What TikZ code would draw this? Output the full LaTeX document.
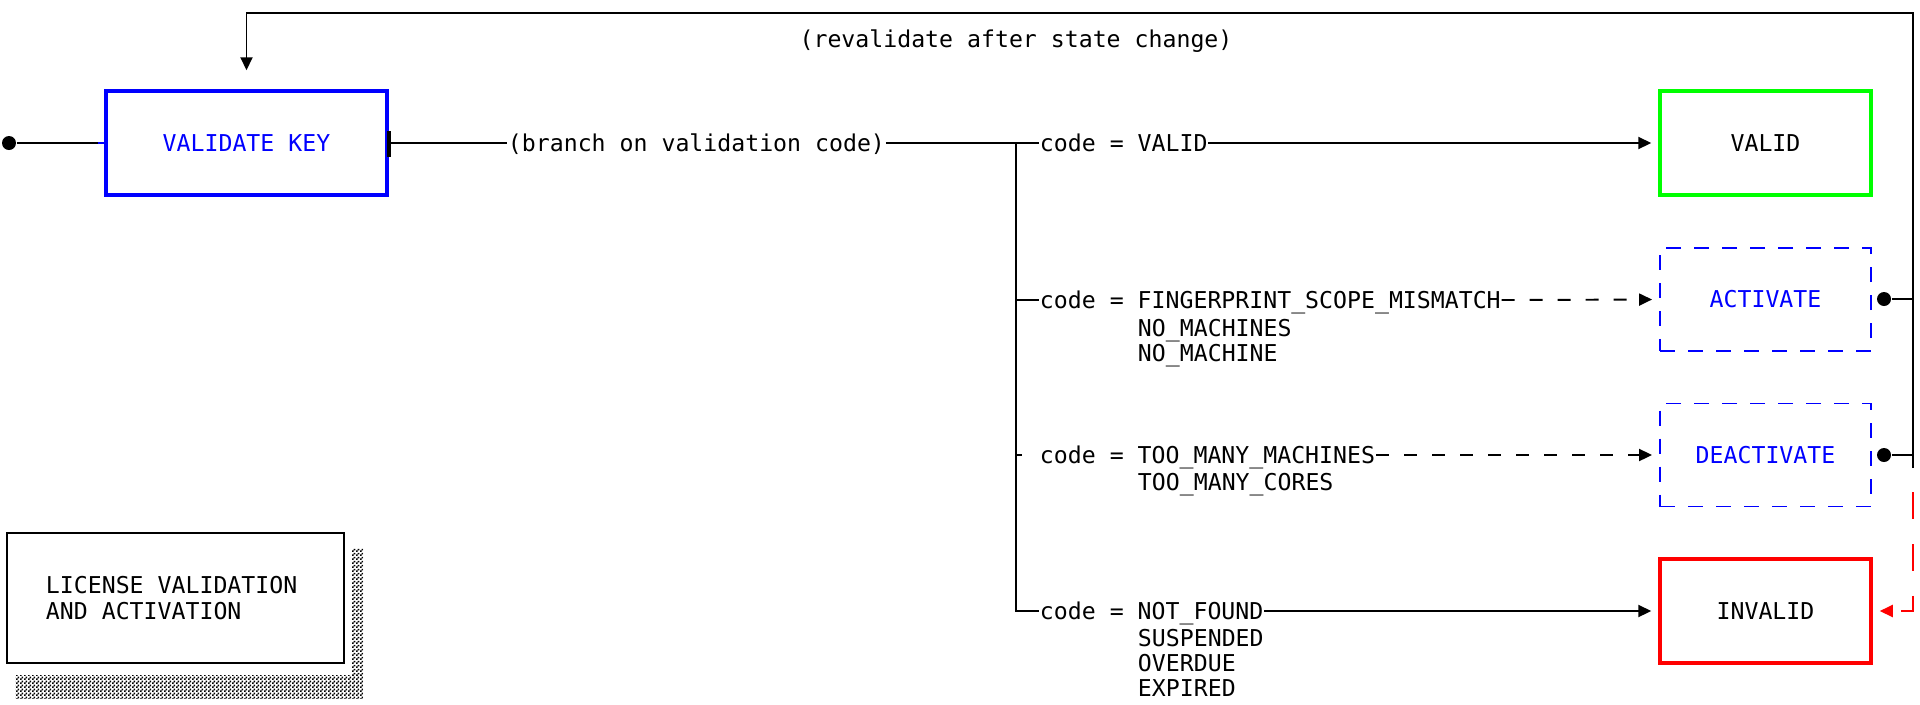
\documentclass[tikz,border=0pt]{standalone}
\usepackage{fontspec}
\setmonofont{DejaVu Sans Mono}
\usetikzlibrary{arrows.meta,positioning,patterns}

% coarse checker used for the title shadow
\pgfdeclarepatternformonly{shadedots}{\pgfqpoint{0pt}{0pt}}{\pgfqpoint{2.28pt}{2.28pt}}{\pgfqpoint{2.28pt}{2.28pt}}{
  \pgfpathrectangle{\pgfqpoint{0pt}{0pt}}{\pgfqpoint{1.14pt}{1.14pt}}
  \pgfpathrectangle{\pgfqpoint{1.14pt}{1.14pt}}{\pgfqpoint{1.14pt}{1.14pt}}
  \pgfusepath{fill}}

\begin{document}
\begin{tikzpicture}[x=0.02cm,y=-0.02cm,>={Triangle[length=0.26cm,width=0.24cm]},
        line width=1.1pt,font=\ttfamily\fontsize{13.2}{14.4}\selectfont,
        box/.style={rectangle,draw,line width=2pt,minimum width=4.22cm,
                    minimum height=2.08cm,inner sep=0pt},
        cmdbox/.style={rectangle,draw=blue,text=blue,line width=1.1pt,
                    dash pattern=on 0.3cm off 0.26cm,minimum width=4.22cm,
                    minimum height=2.06cm,inner sep=0pt},
        codelbl/.style={inner sep=0pt,anchor=west,text height=9.7pt,text depth=0pt},
        altlbl/.style={inner sep=0pt,anchor=north west,align=left},
        dot/.style={circle,fill,inner sep=0pt,minimum size=0.28cm},
        dashline/.style={dash pattern=on 0.26cm off 0.3cm}]

        \useasboundingbox (0,0) rectangle (1920,704);

        % entry and validation
        \node[dot] (start) at (9,143) {};
        \node[box,draw=blue,text=blue,minimum width=5.62cm] (validate) at (246.5,143) {VALIDATE KEY};
        \node[codelbl] (branch) at (507,143) {(branch on validation code)};
        \coordinate (fork) at (1016,143);

        % result codes
        \node[codelbl] (cvalid) at (1039,143) {code = VALID};
        \node[codelbl] (cfp) at (1039,300) {code = FINGERPRINT\_SCOPE\_MISMATCH};
        \node[altlbl] (cfpalt) at (1137,318) {NO\_MACHINES\\NO\_MACHINE};
        \node[codelbl] (ctm) at (1039,455) {code = TOO\_MANY\_MACHINES};
        \node[altlbl] (ctmalt) at (1137,472) {TOO\_MANY\_CORES};
        \node[codelbl] (cnf) at (1039,611) {code = NOT\_FOUND};
        \node[altlbl] (cnfalt) at (1137,628) {SUSPENDED\\OVERDUE\\EXPIRED};

        % states
        \node[box,draw=green] (valid) at (1765.5,143) {VALID};
        \node[cmdbox] (activate) at (1765.5,299.5) {ACTIVATE};
        \node[cmdbox] (deactivate) at (1765.5,455) {DEACTIVATE};
        \node[box,draw=red] (invalid) at (1765.5,611) {INVALID};
        \node[dot] (actdot) at (1884,299) {};
        \node[dot] (deactdot) at (1884,455) {};
        \coordinate (railtop) at (1913,13);
        \coordinate (railend) at (1913,468);
        \coordinate (redstart) at (1913,492);
        \node (revalidate) at (1016,41) {(revalidate after state change)};

        % title
        \node[draw,line width=1.1pt,minimum width=6.74cm,minimum height=2.6cm,
              inner sep=0pt] (title) at (175.5,598) {};
        \node[altlbl,anchor=west] (titletext) at (45,598) {LICENSE VALIDATION\\AND ACTIVATION};
        \fill[pattern=shadedots] (352,548) rectangle (363,675);
        \fill[pattern=shadedots] (15,675) rectangle (363,698);

        \draw (start) -- ([xshift=-0.12cm]validate.west);
        \draw[blue] ([xshift=-0.12cm]validate.west) -- (validate.west);
        \draw[line width=2.2pt] ([yshift=0.24cm]validate.east) -- ([yshift=-0.28cm]validate.east);
        \draw (validate.east) -- (branch.west);
        \draw (branch.east) -- (cvalid.west);
        \draw (fork) |- (cnf.west);
        \draw (fork |- cfp.west) -- (cfp.west);
        \draw[shorten >=0.34cm] (fork |- ctm.west) -- (ctm.west);

        \draw[->,shorten >=0.14cm] (cvalid.east) -- (valid.west);
        \draw[->,dashline,shorten >=0.14cm] (cfp.east) -- (activate.west);
        \draw[->,dashline,shorten >=0.14cm] (ctm.east) -- (deactivate.west);
        \draw[->,shorten >=0.14cm] (cnf.east) -- (invalid.west);

        \draw (actdot) -- (actdot -| railtop);
        \draw (deactdot) -- (deactdot -| railtop);
        \draw[->,shorten >=0.38cm] (railend) -- (railtop) -| (validate.north);
        \draw[->,red,dash pattern=on 0.54cm off 0.5cm,shorten >=0.14cm] (redstart) |- (invalid.east);
\end{tikzpicture}
\end{document}
